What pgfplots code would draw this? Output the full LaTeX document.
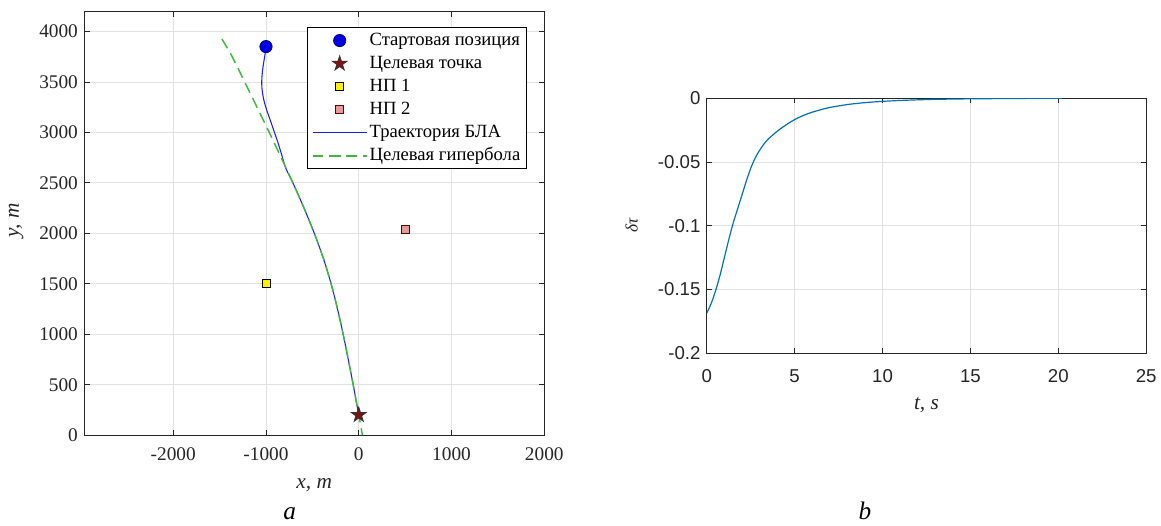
\documentclass[border=0pt]{standalone}
\usepackage{fontspec}
\setmainfont{Liberation Serif}
\newfontfamily\sansf{Liberation Sans}
\usepackage{pgfplots}
\pgfplotsset{compat=1.18}
\definecolor{axc}{HTML}{262626}
\definecolor{gridc}{HTML}{E2E2E2}
\definecolor{mblue}{HTML}{0072BD}
\definecolor{hgreen}{HTML}{3DB83D}
\definecolor{traj}{HTML}{1E1EF0}
\definecolor{starred}{HTML}{7A1414}
\definecolor{np2}{HTML}{E59A98}
\pgfdeclareplotmark{pentagram}{%
  \pgfpathmoveto{\pgfqpoint{0pt}{\pgfplotmarksize}}%
  \pgfpathlineto{\pgfqpoint{-0.2245\pgfplotmarksize}{0.309\pgfplotmarksize}}%
  \pgfpathlineto{\pgfqpoint{-0.951\pgfplotmarksize}{0.309\pgfplotmarksize}}%
  \pgfpathlineto{\pgfqpoint{-0.363\pgfplotmarksize}{-0.118\pgfplotmarksize}}%
  \pgfpathlineto{\pgfqpoint{-0.588\pgfplotmarksize}{-0.809\pgfplotmarksize}}%
  \pgfpathlineto{\pgfqpoint{0pt}{-0.382\pgfplotmarksize}}%
  \pgfpathlineto{\pgfqpoint{0.588\pgfplotmarksize}{-0.809\pgfplotmarksize}}%
  \pgfpathlineto{\pgfqpoint{0.363\pgfplotmarksize}{-0.118\pgfplotmarksize}}%
  \pgfpathlineto{\pgfqpoint{0.951\pgfplotmarksize}{0.309\pgfplotmarksize}}%
  \pgfpathlineto{\pgfqpoint{0.2245\pgfplotmarksize}{0.309\pgfplotmarksize}}%
  \pgfpathclose
  \pgfusepathqfillstroke}
\pgfplotsset{
  mstyle/.style={
    scale only axis, anchor=south west,
    axis line style={axc, line width=0.75pt},
    tick style={axc, line width=0.6pt},
    major tick length=4pt, tick align=inside,
    xtick pos=both, ytick pos=both,
    grid=major, major grid style={gridc, line width=0.6pt},
    ticklabel style={text=axc},
    label style={text=axc},
  },
  legend image code/.code={\draw[mark repeat=2,mark phase=2,#1] plot coordinates {(0pt,0pt) (20.25pt,0pt) (40.5pt,0pt)};},
}
\begin{document}
\begin{tikzpicture}
\path (0,0) rectangle (870.75pt,394.5pt);
% ---------------- panel a ----------------
\begin{axis}[mstyle,
  at={(63.225pt,67.725pt)},
  width=345.5pt, height=318.3pt,
  xmin=-2960, xmax=2000, ymin=0, ymax=4200,
  xtick={-2000,-1000,0,1000,2000}, xticklabels={-2000,-1000,0,1000,2000},
  ytick={0,500,1000,1500,2000,2500,3000,3500,4000},
  yticklabels={0,500,1000,1500,2000,2500,3000,3500,4000},
  ticklabel style={font=\fontsize{14.5}{16}\selectfont},
  xticklabel style={yshift=-5.5pt},
  yticklabel style={xshift=-1.2pt},
  xlabel={\itshape x, m},
  xlabel style={at={(axis description cs:0.5,-0.118)}, anchor=center, font=\fontsize{16}{18}\selectfont},
  ylabel={\itshape y, m},
  ylabel style={at={(axis description cs:-0.148,0.507)}, anchor=center, font=\fontsize{16}{18}\selectfont},
  legend style={at={(0.962,0.962)}, anchor=north east, draw=black, line width=0.75pt, fill=white,
    font=\fontsize{14}{16}\selectfont, inner xsep=3pt, inner ysep=2pt, row sep=2.3pt,
    nodes={inner xsep=1.5pt, inner ysep=0pt, text height=11pt, text depth=4pt}},
  legend cell align=left,
]
% UAV trajectory
\addplot[color=traj, draw=traj, line width=0.8pt, smooth, forget plot] coordinates {
(-1000,3850) (-1006,3800) (-1018,3730) (-1032,3650) (-1042,3570) (-1046,3500) (-1043,3430)
(-1032,3360) (-1015,3290) (-992,3220) (-965,3150) (-935,3070) (-905,2990) (-875,2910)
(-848,2830) (-822,2750) (-797,2670) (-764,2600) (-710,2500) (-590,2250) (-479,2000)
(-381,1750) (-298,1500) (-229,1250) (-168,1000) (-113,750) (-60,500) (-30,350) (0,200)};
% target hyperbola
\addplot[color=hgreen, draw=hgreen, line width=1.1pt, dash pattern=on 8pt off 4.5pt, smooth, forget plot] coordinates {
(-1475,3925) (-1364,3750) (-1230,3500) (-1097,3250) (-965,3000) (-836,2750) (-710,2500)
(-590,2250) (-479,2000) (-381,1750) (-298,1500) (-229,1250) (-168,1000) (-113,750)
(-60,500) (-30,350) (0,200) (20,100) (39,0)};
% markers
\addplot[only marks, mark=*, mark size=4.6pt, mark options={fill=blue!90!black, draw=blue!50!black, line width=0.6pt}, forget plot] coordinates {(-1000,3850)};
\addplot[only marks, mark=pentagram, mark size=6pt, mark options={fill=starred, draw=black!80, line width=0.5pt}, forget plot] coordinates {(0,200)};
\addplot[only marks, mark=square*, mark size=3pt, mark options={fill=yellow, draw=black, line width=0.6pt}, forget plot] coordinates {(-1000,1500)};
\addplot[only marks, mark=square*, mark size=3pt, mark options={fill=np2, draw=black!60!red, line width=0.6pt}, forget plot] coordinates {(500,2035)};
% legend
\addlegendimage{only marks, mark=*, mark size=4.6pt, mark options={fill=blue!90!black, draw=blue!50!black, line width=0.6pt}}
\addlegendentry{Стартовая позиция}
\addlegendimage{only marks, mark=pentagram, mark size=6pt, mark options={fill=starred, draw=black!80, line width=0.5pt}}
\addlegendentry{Целевая точка}
\addlegendimage{only marks, mark=square*, mark size=3pt, mark options={fill=yellow, draw=black, line width=0.6pt}}
\addlegendentry{НП 1}
\addlegendimage{only marks, mark=square*, mark size=3pt, mark options={fill=np2, draw=black!60!red, line width=0.6pt}}
\addlegendentry{НП 2}
\addlegendimage{color=traj, draw=traj, line width=0.9pt}
\addlegendentry{Траектория БЛА}
\addlegendimage{color=hgreen, draw=hgreen, line width=1.4pt, dash pattern=on 8pt off 4.5pt}
\addlegendentry{Целевая гипербола}
\end{axis}
% ---------------- panel b ----------------
\begin{axis}[mstyle,
  at={(530.775pt,129.225pt)},
  width=330pt, height=191.55pt,
  xmin=0, xmax=25, ymin=-0.2, ymax=0,
  xtick={0,5,10,15,20,25}, xticklabels={0,5,10,15,20,25},
  ytick={-0.2,-0.15,-0.1,-0.05,0}, yticklabels={-0.2,-0.15,-0.1,-0.05,0},
  ticklabel style={font=\sansf\fontsize{14}{16}\selectfont},
  xticklabel style={yshift=-9pt},
  yticklabel style={xshift=-1.2pt},
  xlabel={\itshape t, s},
  xlabel style={at={(axis description cs:0.5,-0.204)}, anchor=center, font=\fontsize{16}{18}\selectfont},
  ylabel={\itshape δτ},
  ylabel style={at={(axis description cs:-0.171,0.5)}, anchor=center, font=\fontsize{13}{15}\selectfont},
]
\addplot[color=mblue, draw=mblue, line width=0.9pt, smooth] coordinates {
(0,-0.1685) (0.25,-0.161) (0.5,-0.151) (0.75,-0.139) (1,-0.125) (1.25,-0.111) (1.5,-0.098)
(1.75,-0.087) (2,-0.076) (2.25,-0.065) (2.5,-0.055) (2.75,-0.047) (3,-0.041) (3.25,-0.036)
(3.5,-0.032) (4,-0.026) (4.5,-0.021) (5,-0.0168) (5.5,-0.0135) (6,-0.011) (6.5,-0.009)
(7,-0.0073) (8,-0.005) (9,-0.0035) (10,-0.0025) (11,-0.0018) (12,-0.0013) (13,-0.0009)
(14,-0.0007) (15,-0.0005) (17,-0.0003) (19,-0.0001) (20.2,0)};
\end{axis}
\node[anchor=base, font=\itshape\fontsize{19}{21}\selectfont] at (217.5pt,4.5pt) {a};
\node[anchor=base, font=\itshape\fontsize{19}{21}\selectfont] at (649.5pt,4.5pt) {b};
\end{tikzpicture}
\end{document}
